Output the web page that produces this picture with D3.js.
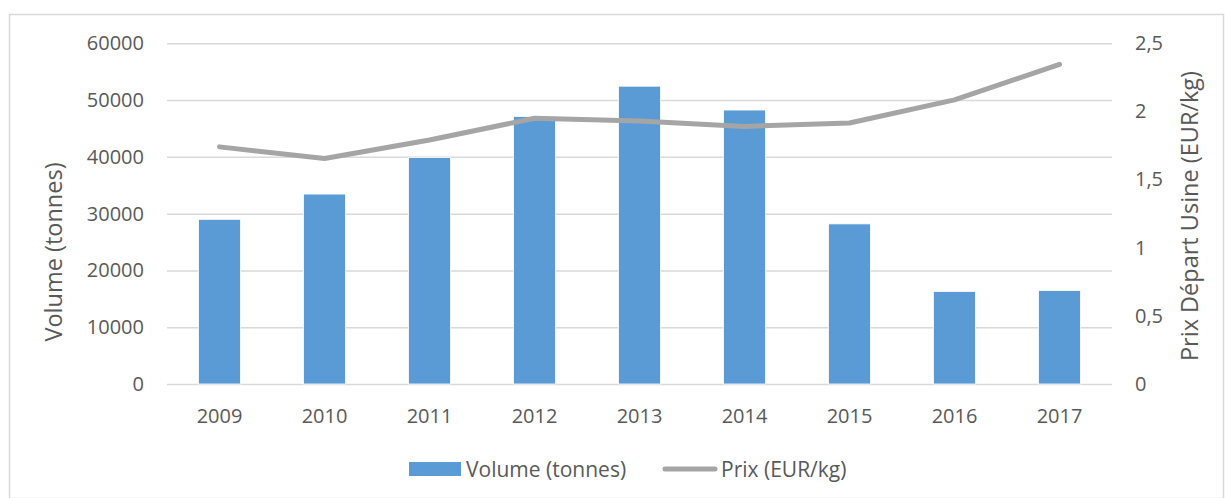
<!DOCTYPE html>
<html>
<head>
<meta charset="utf-8">
<script src="https://d3js.org/d3.v7.min.js"></script>
<style>
  body { margin: 0; background: #fff; }
  #chart { width: 1225px; height: 498px; }
  text { font-family: "Open Sans", "Noto Sans", sans-serif; fill: #595959; }
  .axis text { font-size: 20px; }
  .axis .domain { display: none; }
  .grid line { stroke: #d9d9d9; stroke-width: 1.5; }
  .grid .domain { display: none; }
  .axisLabel { font-size: 23.5px; text-anchor: middle; }
  .legend--label { font-size: 21px; }
</style>
</head>
<body>
<div id="chart"></div>
<script>
// data
const years = ["2009","2010","2011","2012","2013","2014","2015","2016","2017"];
const volume = [29000, 33450, 39900, 47100, 52450, 48250, 28200, 16300, 16450];
const prix = [1.74, 1.655, 1.79, 1.95, 1.93, 1.89, 1.915, 2.085, 2.345];
const leftTicks = [0, 10000, 20000, 30000, 40000, 50000, 60000];
const rightTicks = [0, 0.5, 1, 1.5, 2, 2.5];

const width = 1225;
const height = 498;
const margin = {top: 43.3, left: 167, right: 113, bottom: 114};

const svg = d3.select("#chart")
    .append("svg")
    .attr("width", width)
    .attr("height", height);

/* outer border */
svg.append("rect")
    .attr("x", 9.5)
    .attr("y", 14.5)
    .attr("width", width - 11)
    .attr("height", height - 14)
    .attr("fill", "none")
    .attr("stroke", "#d9d9d9")
    .attr("stroke-width", 1.5);

/* SCALES */
const xScale = d3.scaleBand()
    .domain(years)
    .range([margin.left, width - margin.right])
    .padding(0);

const yLeft = d3.scaleLinear()
    .domain([0, 60000])
    .range([height - margin.bottom, margin.top]);

const yRight = d3.scaleLinear()
    .domain([0, 2.5])
    .range([height - margin.bottom, margin.top]);

/* GRIDLINES */
svg.append("g")
    .attr("class", "grid")
    .attr("transform", `translate(${margin.left},0)`)
    .call(d3.axisLeft(yLeft).tickValues(leftTicks).tickSize(-(width - margin.left - margin.right)).tickFormat(""));

/* BARS */
const barW = xScale.bandwidth() * 0.4;
svg.selectAll("rect.bar")
    .data(volume)
    .enter()
    .append("rect")
    .attr("class", "bar")
    .attr("x", function(d, i) { return xScale(years[i]) + (xScale.bandwidth() - barW) / 2; })
    .attr("y", function(d) { return yLeft(d); })
    .attr("width", barW)
    .attr("height", function(d) { return yLeft(0) - yLeft(d); })
    .attr("fill", "#5b9bd5")
    .attr("stroke", "#ffffff")
    .attr("stroke-width", 0.8);

/* LINE */
const line = d3.line()
    .x(function(d, i) { return xScale(years[i]) + xScale.bandwidth() / 2; })
    .y(function(d) { return yRight(d); });

svg.append("path")
    .datum(prix)
    .attr("d", line)
    .attr("fill", "none")
    .attr("stroke", "#a5a5a5")
    .attr("stroke-width", 5)
    .attr("stroke-linejoin", "round")
    .attr("stroke-linecap", "round");

/* AXES */
svg.append("g")
    .attr("class", "axis")
    .attr("transform", `translate(${margin.left},0)`)
    .call(d3.axisLeft(yLeft).tickValues(leftTicks).tickSize(0).tickPadding(23).tickFormat(d3.format("d")));

svg.append("g")
    .attr("class", "axis")
    .attr("transform", `translate(${width - margin.right},0)`)
    .call(d3.axisRight(yRight).tickValues(rightTicks).tickSize(0).tickPadding(23)
        .tickFormat(function(d) { return String(d).replace(".", ","); }));

svg.append("g")
    .attr("class", "axis")
    .attr("transform", `translate(0,${height - margin.bottom})`)
    .call(d3.axisBottom(xScale).tickSize(0).tickPadding(25));

/* AXIS LABELS */
svg.append("text")
    .attr("class", "axisLabel")
    .attr("transform", "rotate(-90)")
    .attr("x", -252)
    .attr("y", 62)
    .text("Volume (tonnes)");

svg.append("text")
    .attr("class", "axisLabel")
    .attr("transform", "rotate(-90)")
    .attr("x", -216)
    .attr("y", 1198)
    .text("Prix Départ Usine (EUR/kg)");

/* LEGEND */
const legend = svg.append("g");

legend.append("rect")
    .attr("x", 409)
    .attr("y", 462)
    .attr("width", 52)
    .attr("height", 14)
    .attr("fill", "#5b9bd5");

legend.append("text")
    .attr("class", "legend--label")
    .attr("x", 466)
    .attr("y", 477)
    .text("Volume (tonnes)");

legend.append("line")
    .attr("x1", 665)
    .attr("x2", 715)
    .attr("y1", 469)
    .attr("y2", 469)
    .attr("stroke", "#a5a5a5")
    .attr("stroke-width", 5)
    .attr("stroke-linecap", "round");

legend.append("text")
    .attr("class", "legend--label")
    .attr("x", 721)
    .attr("y", 477)
    .text("Prix (EUR/kg)");
</script>
</body>
</html>
